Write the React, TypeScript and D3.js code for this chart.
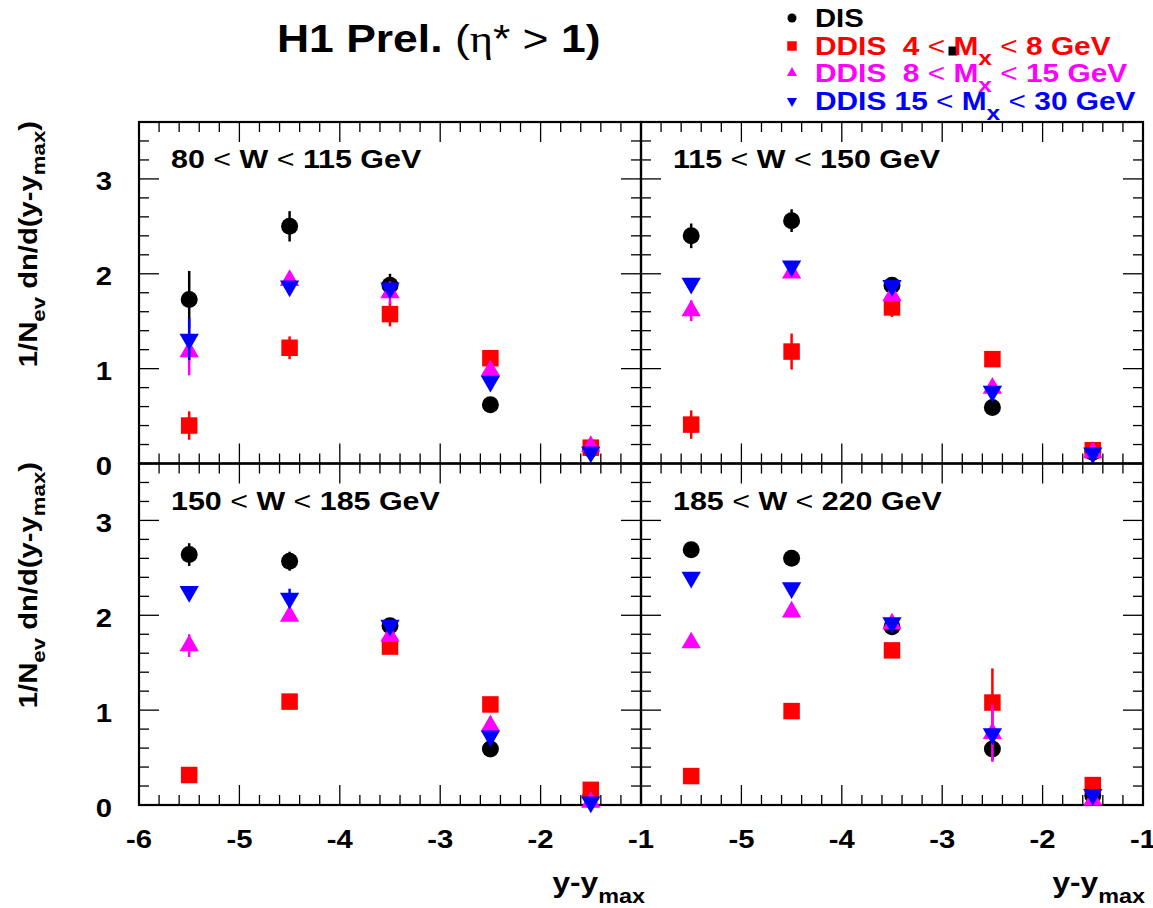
import React from 'react';
import * as d3 from 'd3';

// bin centres in y - y_max
const xCenters = [-5.5, -4.5, -3.5, -2.5, -1.5];

const panelLabels = ['80 < W < 115 GeV', '115 < W < 150 GeV', '150 < W < 185 GeV', '185 < W < 220 GeV'];

// one row per W bin
const disVals = [
  [1.73, 2.5, 1.88, 0.62, 0.15],
  [2.4, 2.56, 1.88, 0.59, 0.12],
  [2.64, 2.57, 1.89, 0.59, 0.1],
  [2.69, 2.6, 1.88, 0.59, 0.1],
];
const disErr = [
  [0.3, 0.16, 0.12, 0.03, 0.02],
  [0.13, 0.12, 0.05, 0.03, 0.02],
  [0.12, 0.1, 0.05, 0.03, 0.02],
  [0.05, 0.05, 0.05, 0.12, 0.02],
];

const mx1Vals = [
  [0.4, 1.22, 1.575, 1.11, 0.167],
  [0.41, 1.18, 1.645, 1.1, 0.14],
  [0.316, 1.09, 1.67, 1.06, 0.16],
  [0.305, 0.99, 1.63, 1.08, 0.21],
];
const mx1Err = [
  [0.15, 0.12, 0.13, 0.06, 0.03],
  [0.15, 0.19, 0.1, 0.04, 0.03],
  [0.04, 0.07, 0.05, 0.04, 0.03],
  [0.04, 0.08, 0.04, 0.36, 0.08],
];

const mx2Vals = [
  [1.18, 1.93, 1.8, 0.98, 0.18],
  [1.61, 2.01, 1.77, 0.795, 0.12],
  [1.68, 1.99, 1.78, 0.835, 0.03],
  [1.71, 2.035, 1.91, 0.755, 0.05],
];
const mx2Err = [
  [0.25, 0.05, 0.12, 0.05, 0.03],
  [0.11, 0.04, 0.05, 0.06, 0.03],
  [0.12, 0.05, 0.05, 0.1, 0.03],
  [0.05, 0.05, 0.08, 0.3, 0.05],
];

const mx3Vals = [
  [1.31, 1.87, 1.85, 0.865, 0.12],
  [1.9, 2.08, 1.875, 0.76, 0.11],
  [2.25, 2.18, 1.895, 0.726, 0.03],
  [2.4, 2.29, 1.92, 0.75, 0.11],
];
const mx3Err = [
  [0.22, 0.05, 0.05, 0.05, 0.04],
  [0.04, 0.04, 0.05, 0.05, 0.04],
  [0.04, 0.1, 0.04, 0.06, 0.05],
  [0.04, 0.04, 0.04, 0.05, 0.04],
];

const mxLow = ['4', '8', '15'];
const mxHigh = ['8', '15', '30'];

const W = 1153;
const H = 908;
const LEFT = 139;
const TOP = 122;
const PW = 502;
const PH = 341.5;
const SX = 1.17;
const FONT = "'Liberation Sans', Arial, Helvetica, sans-serif";

const series = [
  { vals: disVals, errs: disErr, color: '#000000', shape: 'circle' },
  { vals: mx1Vals, errs: mx1Err, color: '#ff0000', shape: 'square' },
  { vals: mx2Vals, errs: mx2Err, color: '#ff00ff', shape: 'up' },
  { vals: mx3Vals, errs: mx3Err, color: '#0000ff', shape: 'down' },
];

const marker = (shape: string, s: number) => {
  if (shape === 'circle') return d3.symbol().type(d3.symbolCircle).size(Math.PI * s * s / 4)();
  if (shape === 'square') return d3.symbol().type(d3.symbolSquare).size(s * s)();
  return d3.symbol().type(d3.symbolTriangle).size((Math.sqrt(3) / 4) * s * s * 1.15)();
};

const Txt = ({ x, y, rot, anchor = 'start', size, weight = 'bold', fill = '#000', children }: any) => (
  <text
    transform={`translate(${x},${y})${rot ? ` rotate(${rot})` : ''} scale(${SX},1)`}
    textAnchor={anchor}
    fontSize={size}
    fontWeight={weight}
    fontFamily={FONT}
    fill={fill}
    style={{ whiteSpace: 'pre' }}
  >
    {children}
  </text>
);

const Mark = ({ shape, x, y, s, color }: any) => (
  <path
    d={marker(shape, s) as string}
    transform={`translate(${x},${y})${shape === 'down' ? ' rotate(180)' : ''}`}
    fill={color}
  />
);

const Panel = ({ idx }: { idx: number }) => {
  const col = idx % 2;
  const row = Math.floor(idx / 2);
  const x0 = LEFT + col * PW;
  const y0 = TOP + row * PH;
  const x = d3.scaleLinear().domain([-6, -1]).range([x0, x0 + PW]);
  const y = d3.scaleLinear().domain([0, 3.6]).range([y0 + PH, y0]);
  const xMinor = x.ticks(25);
  const xMajor = x.ticks(5);
  const yMinor = y.ticks(18);
  const yMajor = y.ticks(4);
  const tk = (maj: boolean) => (maj ? 20 : 10);
  return (
    <g>
      <g stroke="#000" strokeWidth={1.3}>
        {xMinor.map((t) => {
          const maj = xMajor.some((m) => Math.abs(m - t) < 1e-6);
          return (
            <g key={'x' + t}>
              <line x1={x(t)} x2={x(t)} y1={y0 + PH} y2={y0 + PH - tk(maj)} />
              <line x1={x(t)} x2={x(t)} y1={y0} y2={y0 + tk(maj)} />
            </g>
          );
        })}
        {yMinor.map((t) => {
          const maj = yMajor.some((m) => Math.abs(m - t) < 1e-6);
          return (
            <g key={'y' + t}>
              <line x1={x0} x2={x0 + tk(maj)} y1={y(t)} y2={y(t)} />
              <line x1={x0 + PW} x2={x0 + PW - tk(maj)} y1={y(t)} y2={y(t)} />
            </g>
          );
        })}
      </g>
      <rect x={x0} y={y0} width={PW} height={PH} fill="none" stroke="#000" strokeWidth={2.2} />
      {col === 0 &&
        yMajor.map((t) => (
          <Txt key={'yl' + t} x={112} y={y(t) + 11.5} anchor="end" size={25}>
            {String(t)}
          </Txt>
        ))}
      {row === 1 &&
        xMajor
          .filter((t) => col === 0 || t > -6)
          .map((t) => (
            <Txt key={'xl' + t} x={x(t)} y={848} anchor="middle" size={25}>
              {String(t)}
            </Txt>
          ))}
      <Txt x={x0 + 32} y={y0 + 46} size={26}>
        {panelLabels[idx].split('<').map((part, i, arr) => (
          <React.Fragment key={i}>
            {part}
            {i < arr.length - 1 && <tspan fontWeight="normal">&lt;</tspan>}
          </React.Fragment>
        ))}
      </Txt>
      {series.map((s, si) => (
        <g key={si}>
          {xCenters.map((xc, i) => {
            const v = s.vals[idx][i];
            const e = s.errs[idx][i];
            return (
              <g key={i}>
                <line x1={x(xc)} x2={x(xc)} y1={y(v - e)} y2={y(v + e)} stroke={s.color} strokeWidth={2.5} />
                <Mark shape={s.shape} x={x(xc)} y={y(v)} s={s.shape === 'circle' ? 17 : s.shape === 'square' ? 16.5 : 18} color={s.color} />
              </g>
            );
          })}
        </g>
      ))}
    </g>
  );
};

const YTitle = ({ yEnd }: { yEnd: number }) => (
  <Txt x={37} y={yEnd} rot={-90} anchor="end" size={25}>
    1/N<tspan dy={8} fontSize={19}>ev</tspan>
    <tspan dy={-8}> dn/d(y-y</tspan>
    <tspan dy={8} fontSize={19}>max</tspan>
    <tspan dy={-8}>)</tspan>
  </Txt>
);

const XTitle = ({ xEnd }: { xEnd: number }) => (
  <Txt x={xEnd} y={892} anchor="end" size={27}>
    y-y<tspan dy={11} fontSize={20}>max</tspan>
  </Txt>
);

const legendBase = [27, 55, 82, 110];

export default function App() {
  return (
    <svg width={W} height={H} style={{ position: 'absolute', left: 0, top: 0, background: '#fff' }}>
      <rect width={W} height={H} fill="#fff" />
      <Txt x={277} y={52} size={38}>
        H1 Prel. <tspan fontWeight="normal">(</tspan>
        <tspan fontWeight="normal" fontFamily="'Liberation Serif', 'Times New Roman', serif">η</tspan>
        <tspan fontWeight="normal">* &gt; </tspan>1)
      </Txt>

      {[0, 1, 2, 3].map((i) => (
        <Panel key={i} idx={i} />
      ))}

      <YTitle yEnd={121} />
      <YTitle yEnd={462} />
      <XTitle xEnd={645} />
      <XTitle xEnd={1145} />

      {/* legend */}
      {series.map((s, i) => (
        <Mark key={'lm' + i} shape={s.shape} x={792} y={legendBase[i] - 9} s={s.shape === 'circle' ? 9 : 9.5} color={s.color} />
      ))}
      <rect x={948.5} y={46.5} width={9} height={9} fill="#000" />
      <Txt x={815} y={legendBase[0]} size={25}>
        DIS
      </Txt>
      {mxLow.map((lo, i) => (
        <Txt key={'lt' + i} x={815} y={legendBase[i + 1]} size={25.5} fill={series[i + 1].color}>
          {'DDIS ' + lo.padStart(2, ' ') + ' '}
          <tspan fontWeight="normal">&lt;</tspan>
          {' M'}
          <tspan dy={10} fontSize={21}>x</tspan>
          <tspan dy={-10}> </tspan>
          <tspan fontWeight="normal">&lt;</tspan>
          {' ' + mxHigh[i] + ' GeV'}
        </Txt>
      ))}
    </svg>
  );
}
